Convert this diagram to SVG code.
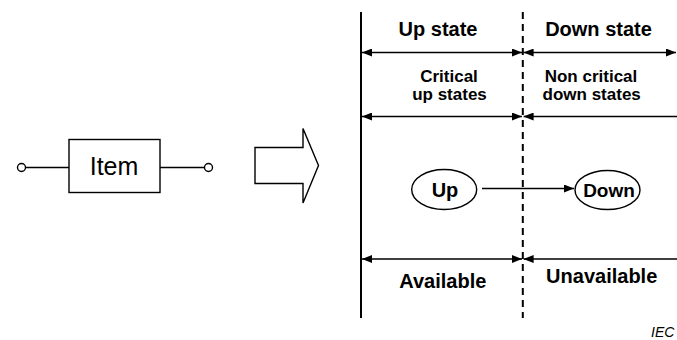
<svg xmlns="http://www.w3.org/2000/svg" width="677" height="340" viewBox="0 0 677 340">
  <defs>
    <marker id="ah" viewBox="0 0 10 8" refX="10" refY="4" markerWidth="10" markerHeight="8" markerUnits="userSpaceOnUse" orient="auto-start-reverse">
      <path d="M0,0 L10,4 L0,8 Z" fill="#000"/>
    </marker>
  </defs>
  <style>
    .ln { stroke: #000; stroke-width: 1.5; fill: none; }
    .bx { stroke: #000; stroke-width: 1.4; fill: #fff; }
    .b { font-family: "Liberation Sans", Arial, sans-serif; font-weight: bold; fill: #000; text-anchor: middle; }
    .t20 { font-size: 20px; }
    .t17 { font-size: 17px; }
    .t19 { font-size: 19px; }
    .r { font-family: "Liberation Sans", Arial, sans-serif; fill: #000; text-anchor: middle; }
  </style>
  <rect width="677" height="340" fill="#fff"/>

  <!-- item block with terminals -->
  <g id="item">
    <line class="ln" x1="25.5" y1="167.5" x2="69" y2="167.5"/>
    <line class="ln" x1="160" y1="167.5" x2="204.5" y2="167.5"/>
    <circle class="bx" cx="21.5" cy="167.5" r="4"/>
    <circle class="bx" cx="208.5" cy="167.5" r="4"/>
    <rect class="bx" x="69" y="139.5" width="91" height="53"/>
    <text class="r" x="114" y="175" font-size="25">Item</text>
  </g>

  <!-- block arrow -->
  <g id="bigArrow">
    <path class="bx" d="M255,147.5 L303,147.5 L303,128.5 L318.5,165.5 L303,203 L303,183.5 L255,183.5 Z"/>
  </g>

  <!-- state boundaries -->
  <g id="boundaries">
    <line x1="361" y1="12" x2="361" y2="318" stroke="#000" stroke-width="2"/>
    <line x1="522.8" y1="12" x2="522.8" y2="318" stroke="#000" stroke-width="2" stroke-dasharray="7,5"/>
  </g>

  <!-- span arrows -->
  <g id="connectors">
    <line class="ln" x1="362" y1="52.5" x2="522" y2="52.5" marker-start="url(#ah)" marker-end="url(#ah)"/>
    <line class="ln" x1="523.6" y1="52.5" x2="676" y2="52.5" marker-start="url(#ah)" marker-end="url(#ah)"/>
    <line class="ln" x1="362" y1="116.5" x2="522" y2="116.5" marker-start="url(#ah)" marker-end="url(#ah)"/>
    <line class="ln" x1="523.6" y1="116.5" x2="677" y2="116.5" marker-start="url(#ah)"/>
    <line class="ln" x1="362" y1="259" x2="522" y2="259" marker-start="url(#ah)" marker-end="url(#ah)"/>
    <line class="ln" x1="523.6" y1="259" x2="677" y2="259" marker-start="url(#ah)"/>
    <line class="ln" x1="482" y1="188.5" x2="574" y2="188.5" marker-end="url(#ah)"/>
  </g>

  <g id="labels">
    <text class="b t20" x="438" y="35.5">Up state</text>
    <text class="b t20" x="598.5" y="35.5">Down state</text>
    <text class="b t17" x="449" y="81.5">Critical</text>
    <text class="b t17" x="449.5" y="100">up states</text>
    <text class="b t17" x="591" y="81.5">Non critical</text>
    <text class="b t17" x="591.7" y="100">down states</text>
    <text class="b t20" x="442.8" y="288.3">Available</text>
    <text class="b t20" x="601.7" y="283">Unavailable</text>
  </g>

  <g id="upState">
    <ellipse class="bx" cx="444.2" cy="189.5" rx="32.5" ry="20"/>
    <text class="b t20" x="445" y="196.5">Up</text>
  </g>
  <g id="downState">
    <ellipse class="bx" cx="607.5" cy="190" rx="32.5" ry="19.5"/>
    <text class="b t19" x="609" y="196.5">Down</text>
  </g>

  <text x="651" y="337" font-family="Liberation Sans, Arial, sans-serif" font-style="italic" font-size="14" fill="#000">IEC</text>
</svg>
